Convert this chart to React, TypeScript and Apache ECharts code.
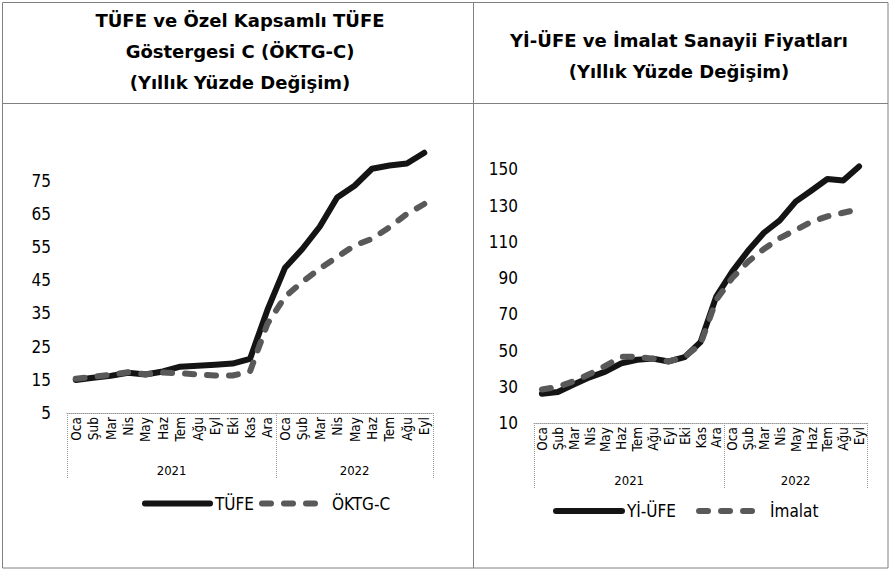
import React, { useEffect, useRef } from "react";
import * as echarts from "echarts";

const months = ["Oca", "Şub", "Mar", "Nis", "May", "Haz", "Tem", "Ağu", "Eyl", "Eki", "Kas", "Ara",
  "Oca", "Şub", "Mar", "Nis", "May", "Haz", "Tem", "Ağu", "Eyl"];
const years = ["2021", "2022"];
const yearSpans = [12, 9];

const tufe = [14.97, 15.61, 16.19, 17.14, 16.59, 17.53, 18.95, 19.25, 19.58, 19.89, 21.31, 36.08,
  48.69, 54.44, 61.14, 69.97, 73.5, 78.62, 79.6, 80.21, 83.45];
const oktgc = [15.3, 15.9, 16.5, 17.3, 16.7, 17.2, 17.0, 16.6, 16.3, 16.3, 17.5, 31.9,
  40.0, 44.5, 48.5, 52.0, 55.5, 57.5, 61.0, 65.0, 68.0];
const yiufe = [26.16, 27.09, 31.2, 35.17, 38.33, 42.89, 44.92, 45.52, 43.96, 46.31, 54.62, 79.89,
  93.53, 105.01, 114.97, 121.82, 132.16, 138.31, 144.61, 143.75, 151.5];
const imalat = [28.5, 30.0, 33.0, 37.0, 41.5, 46.5, 46.5, 45.5, 44.0, 46.5, 53.5, 78.0,
  90.0, 99.0, 106.0, 112.0, 116.5, 121.0, 124.0, 126.0, 128.0];

const leftTitle = ["TÜFE ve Özel Kapsamlı TÜFE", "Göstergesi C (ÖKTG-C)", "(Yıllık Yüzde Değişim)"];
const rightTitle = ["Yİ-ÜFE ve İmalat Sanayii Fiyatları", "(Yıllık Yüzde Değişim)"];

const FONT = '"DejaVu Sans Condensed", "DejaVu Sans", sans-serif';
const SOLID = "#141414";
const DASH = "#595959";
const GRIDC = "#9a9a9a";

const boundaries: number[] = [0];
yearSpans.forEach((s) => boundaries.push(boundaries[boundaries.length - 1] + s));
const centers = yearSpans.map((s, i) => boundaries[i] + s / 2);

function monthAxis(gridIndex: number) {
  return {
    type: "category",
    gridIndex,
    data: months,
    boundaryGap: true,
    position: "bottom",
    axisLine: { show: true, lineStyle: { color: GRIDC, type: "dotted", width: 1 } },
    axisTick: { show: false },
    axisLabel: {
      rotate: 90,
      interval: 0,
      fontSize: 13.5,
      fontFamily: FONT,
      color: "#000",
      margin: 4,
    },
  };
}

function yearAxis(gridIndex: number) {
  return {
    type: "value",
    gridIndex,
    min: 0,
    max: months.length,
    position: "bottom",
    splitLine: { show: false },
    axisLine: { show: false },
    axisTick: {
      show: true,
      customValues: boundaries,
      length: 65,
      lineStyle: { color: GRIDC, type: "dotted", width: 1 },
    },
    axisLabel: {
      customValues: centers,
      fontSize: 13,
      fontFamily: FONT,
      color: "#000",
      margin: 51,
      formatter: (v: number) => {
        const idx = centers.findIndex((c) => Math.abs(c - v) < 1e-6);
        return idx >= 0 ? years[idx] : "";
      },
    },
  };
}

function valueAxis(gridIndex: number, min: number, max: number, interval: number) {
  return {
    type: "value",
    gridIndex,
    min,
    max,
    interval,
    axisLine: { show: false },
    axisTick: { show: false },
    splitLine: { show: false },
    axisLabel: {
      showMaxLabel: false,
      fontSize: 17,
      fontFamily: FONT,
      color: "#000",
      margin: 16,
    },
  };
}

function lineSeries(name: string, data: number[], axis: number, dashed: boolean) {
  return {
    name,
    type: "line",
    xAxisIndex: axis * 2,
    yAxisIndex: axis,
    data,
    symbol: "none",
    showSymbol: false,
    smooth: false,
    lineStyle: dashed
      ? { color: DASH, width: 6, type: [9, 13], cap: "round", join: "round" }
      : { color: SOLID, width: 6, type: "solid", cap: "round", join: "round" },
    itemStyle: { color: dashed ? DASH : SOLID },
    z: dashed ? 3 : 2,
  };
}

function titleTexts(lines: string[], cx: number, y0: number, step: number) {
  return lines.map((t, i) => ({
    type: "text",
    x: cx,
    y: y0 + i * step,
    style: {
      text: t,
      fontSize: 18,
      fontWeight: "bold",
      fontFamily: '"DejaVu Sans", sans-serif',
      fill: "#000",
      align: "center",
      verticalAlign: "middle",
    },
  }));
}

function legend(names: string[], left: number, top: number, itemWidth: number, itemGap: number) {
  return {
    data: names,
    left,
    top,
    itemWidth,
    itemHeight: 1,
    itemGap,
    itemStyle: { opacity: 0 },
    lineStyle: { width: 6, cap: "round" },
    textStyle: { fontSize: 17, fontFamily: FONT, color: "#000" },
  };
}

export default function App() {
  const ref = useRef<HTMLDivElement>(null);
  useEffect(() => {
    if (!ref.current) return;
    const chart = echarts.init(ref.current, undefined, { renderer: "svg" });
    const border = { stroke: "#808080", lineWidth: 1, fill: null as any };
    chart.setOption({
      animation: false,
      backgroundColor: "#fff",
      graphic: [
        { type: "rect", shape: { x: 2.5, y: 2.5, width: 885.5, height: 565.5 }, style: { ...border, fill: "none" } },
        { type: "line", shape: { x1: 2.5, y1: 103.5, x2: 888, y2: 103.5 }, style: border },
        { type: "line", shape: { x1: 473.5, y1: 2.5, x2: 473.5, y2: 568 }, style: border },
        ...titleTexts(leftTitle, 240, 20, 31),
        ...titleTexts(rightTitle, 679, 40, 31),
      ],
      grid: [
        { left: 67, right: 457, top: 147.6, bottom: 157 },
        { left: 534, right: 23, top: 133, bottom: 147 },
      ],
      xAxis: [monthAxis(0), yearAxis(0), monthAxis(1), yearAxis(1)],
      yAxis: [valueAxis(0, 5, 85, 10), valueAxis(1, 10, 170, 20)],
      legend: [
        legend(["TÜFE", "ÖKTG-C"], 137, 490, 65, 5),
        legend(["Yİ-ÜFE", "İmalat"], 548, 497.5, 66, 20),
      ],
      series: [
        lineSeries("TÜFE", tufe, 0, false),
        lineSeries("ÖKTG-C", oktgc, 0, true),
        lineSeries("Yİ-ÜFE", yiufe, 1, false),
        lineSeries("İmalat", imalat, 1, true),
      ],
    });
    return () => chart.dispose();
  }, []);
  return (
    <div
      ref={ref}
      style={{ position: "absolute", left: 0, top: 0, width: 890, height: 570 }}
    />
  );
}
